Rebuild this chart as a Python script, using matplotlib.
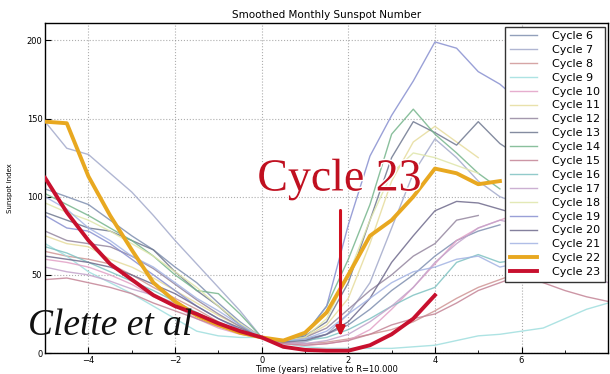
import numpy as np
import matplotlib
matplotlib.use("Agg")
import matplotlib.pyplot as plt
import matplotlib.patheffects as pe

# Time axis (years relative to the R=10 crossing)
years = [-5, -4.5, -4, -3.5, -3, -2.5, -2, -1.5, -1, -0.5, 0, 0.5, 1, 1.5,
         2, 2.5, 3, 3.5, 4, 4.5, 5, 5.5, 6, 6.5, 7, 7.5, 8]

# Smoothed sunspot index per cycle (None = no data)
cycle6 = [105, 100, 95, 85, 75, 66, 55, 45, 32, 20, 10, 8, 9, 12, 18, 28, 40, 50, 62, 72, 78, 82, None, None, None, None, None]
cycle7 = [148, 131, 127, 115, 103, 88, 72, 57, 42, 27, 10, 6, 7, 12, 25, 45, 80, 115, 137, 125, 110, 100, 95, None, None, None, None]
cycle8 = [65, 62, 60, 57, 50, 42, 35, 28, 20, 14, 10, 7, 6, 7, 9, 12, 15, 20, 27, 35, 42, 47, 52, None, None, None, None]
cycle9 = [70, 62, 52, 45, 38, 30, 22, 14, 11, 10, 10, 6, 4, 3, 3, 3, 3, 4, 5, 8, 11, 12, 14, 16, 22, 28, 32]
cycle10 = [60, 58, 55, 50, 44, 36, 30, 22, 16, 12, 10, 6, 5, 6, 8, 15, 28, 42, 57, 72, 80, 85, 90, None, None, None, None]
cycle11 = [75, 70, 68, 60, 55, 48, 40, 32, 24, 17, 10, 8, 10, 18, 35, 70, 110, 135, 145, 135, 125, None, None, None, None, None, None]
cycle12 = [78, 72, 70, 68, 62, 54, 44, 34, 25, 17, 10, 8, 10, 16, 28, 40, 50, 62, 70, 85, 88, None, None, None, None, None, None]
cycle13 = [90, 85, 80, 78, 72, 66, 52, 40, 30, 18, 10, 8, 11, 20, 45, 85, 125, 148, 141, 133, 148, 134, 125, None, None, None, None]
cycle14 = [102, 95, 88, 80, 72, 62, 50, 40, 38, 25, 10, 7, 12, 30, 60, 95, 140, 156, 140, 128, 115, 105, None, None, None, None, None]
cycle15 = [47, 48, 45, 42, 38, 32, 27, 22, 17, 13, 10, 6, 5, 6, 8, 12, 18, 22, 25, 32, 40, 45, 50, 45, 40, 36, 33]
cycle16 = [68, 64, 58, 52, 46, 40, 33, 26, 19, 14, 10, 8, 8, 10, 15, 22, 30, 37, 42, 58, 63, 58, 60, None, None, None, None]
cycle17 = [55, 52, 50, 46, 41, 37, 32, 25, 18, 13, 10, 7, 6, 8, 12, 20, 30, 42, 58, 70, 80, 85, 82, 75, 62, 50, 45]
cycle18 = [96, 90, 85, 78, 70, 62, 52, 42, 30, 19, 10, 8, 10, 22, 50, 85, 115, 128, 125, 120, 115, None, None, None, None, None, None]
cycle19 = [88, 80, 78, 70, 60, 50, 40, 30, 22, 15, 10, 8, 12, 30, 82, 126, 152, 174, 199, 195, 180, 172, 160, None, None, None, None]
cycle20 = [62, 60, 58, 55, 50, 44, 38, 30, 22, 16, 10, 7, 8, 12, 20, 35, 58, 75, 91, 97, 96, 92, 88, None, None, None, None]
cycle21 = [100, 92, 80, 72, 62, 55, 45, 35, 27, 18, 10, 8, 9, 14, 25, 35, 45, 52, 55, 60, 62, 55, 58, None, None, None, None]
cycle22 = [148, 147, 113, 88, 66, 45, 33, 24, 18, 13, 10, 8, 13, 26, 50, 75, 85, 100, 118, 115, 108, 110, None, None, None, None, None]
cycle23 = [112, 90, 72, 57, 47, 37, 30, 25, 19, 14, 10, 4, 2, 1.5, 1.5, 5, 12, 22, 37, None, None, None, None, None, None, None, None]

labels = ["Cycle %d" % n for n in range(6, 24)]
series = [cycle6, cycle7, cycle8, cycle9, cycle10, cycle11, cycle12, cycle13,
          cycle14, cycle15, cycle16, cycle17, cycle18, cycle19, cycle20,
          cycle21, cycle22, cycle23]

colors = ["#7f8fb0", "#a3aacb", "#cf9595", "#9fdede", "#e2a0c6", "#e6dc9c",
          "#94869f", "#6f7890", "#76b58c", "#c48496", "#7fc2c2", "#c3a3cb",
          "#dfe6aa", "#8890d0", "#6f6a8c", "#a3b3e3", "#e8a820", "#c8102e"]

fig = plt.figure(figsize=(6.1, 3.74), dpi=100)
ax = fig.add_axes([0.074, 0.056, 0.923, 0.882])

x = np.array(years, dtype=float)
for vals, lab, col in zip(series, labels, colors):
    y = np.array(vals, dtype=float)
    thick = lab in ("Cycle 22", "Cycle 23")
    ax.plot(x, y, color=col, lw=2.8 if thick else 1.0,
            alpha=1.0 if thick else 0.85, label=lab, zorder=3 if thick else 2)

ax.set_xlim(-5, 8)
ax.set_ylim(0, 211)
ax.set_xticks([-4, -2, 0, 2, 4, 6])
ax.set_xticks(np.arange(-5, 9, 1), minor=True)
ax.set_yticks([0, 50, 100, 150, 200])
ax.tick_params(direction="in", labelsize=6, length=4, pad=2)
ax.tick_params(which="minor", direction="in", length=2)
ax.grid(True, which="major", color="0.55", ls=":", lw=0.8, alpha=0.7)
for s in ax.spines.values():
    s.set_linewidth(1.0)

ax.set_title("Smoothed Monthly Sunspot Number", fontsize=7.5, pad=4)
ax.set_xlabel("Time (years) relative to R=10.000", fontsize=6, labelpad=0)
ax.set_ylabel("Sunspot index", fontsize=5, labelpad=10)

leg = ax.legend(loc="upper right", fontsize=8, labelspacing=0.35,
                handlelength=2.4, handletextpad=1.4, fancybox=False,
                framealpha=1, edgecolor="0.2", borderaxespad=0.3)
leg.get_frame().set_linewidth(1.0)

# Callout for the latest cycle
halo = [pe.withStroke(linewidth=2, foreground="white")]
ax.text(-0.1, 104, "Cycle 23", fontsize=33, color="#c01020",
        family="Liberation Serif", va="baseline", ha="left",
        path_effects=halo, zorder=5)
ax.annotate("", xy=(1.82, 9), xytext=(1.82, 93),
            arrowprops=dict(arrowstyle="-|>", color="#d01020", lw=2.2,
                            mutation_scale=13), zorder=5)

fig.text(0.046, 0.104, "Clette et al", fontsize=27, style="italic",
         family="Liberation Serif", color="#111111", va="baseline",
         ha="left", zorder=6)

fig.savefig("out.png", dpi=100)
